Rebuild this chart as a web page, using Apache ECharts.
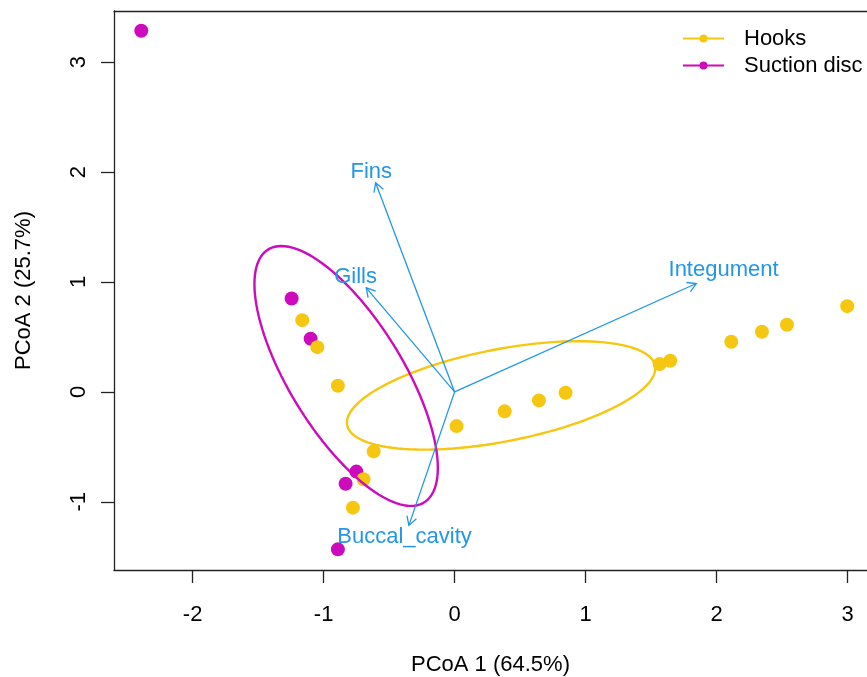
<!DOCTYPE html>
<html>
<head>
<meta charset="utf-8">
<script src="https://cdn.jsdelivr.net/npm/echarts@6/dist/echarts.min.js"></script>
<style>
html,body{margin:0;padding:0;background:#fff;}
#chart{width:867px;height:677px;}
</style>
</head>
<body>
<div id="chart"></div>
<script>
// ---- data ----
const xTicks = [-2, -1, 0, 1, 2, 3];
const yTicks = [-1, 0, 1, 2, 3];
const xTitle = 'PCoA 1 (64.5%)';
const yTitle = 'PCoA 2 (25.7%)';

const hooksX = [-1.163, -1.048, -0.891, -0.618, -0.695, -0.776, 0.015, 0.382, 0.644, 0.847, 1.565, 1.646, 2.112, 2.346, 2.537, 2.997];
const hooksY = [0.653, 0.407, 0.056, -0.541, -0.795, -1.053, -0.311, -0.177, -0.077, -0.008, 0.253, 0.283, 0.456, 0.547, 0.611, 0.780];

const suctionX = [-2.392, -1.244, -1.099, -0.750, -0.832, -0.891];
const suctionY = [3.286, 0.850, 0.484, -0.725, -0.835, -1.432];

// ellipse parameters: centre x, centre y, sd x, sd y, correlation
const hooksEllipse = [0.355, -0.032, 1.177, 0.493, 0.50];
const suctionEllipse = [-0.828, 0.145, 0.700, 1.182, -0.707];

const vectorNames = ['Fins', 'Gills', 'Integument', 'Buccal_cavity'];
const vectorX = [-0.603, -0.674, 1.845, -0.349];
const vectorY = [1.902, 0.947, 0.986, -1.214];
const labelX = [-0.636, -0.756, 2.053, -0.382];
const labelY = [2.000, 1.047, 1.114, -1.323];

// ---- build ----
const FONT = '"Liberation Sans", Arial, Helvetica, sans-serif';
const YEL = '#F5C710', MAG = '#CD0BBC', BLU = '#2297E6';
const X_MIN = -2.6, X_MAX = 3.148, Y_MIN = -1.62, Y_MAX = 3.465;

function pairs(xs, ys) { return xs.map((x, i) => [x, ys[i]]); }
function ellipse(p) {
  const [cx, cy, sx, sy, r] = p;
  const pts = [];
  const n = 120;
  for (let i = 0; i <= n; i++) {
    const t = 2 * Math.PI * i / n;
    pts.push([cx + sx * Math.cos(t), cy + sy * (r * Math.cos(t) + Math.sqrt(1 - r * r) * Math.sin(t))]);
  }
  return pts;
}

const legendIcon = 'path://M0,4H41V6H0Z M16.5,5A4,4 0 1 1 24.5,5A4,4 0 1 1 16.5,5Z';
const axisLineStyle = {color: '#222', width: 1.3};

const chart = echarts.init(document.getElementById('chart'), null, {renderer: 'canvas'});
chart.setOption({
  animation: false,
  backgroundColor: '#fff',
  textStyle: {fontFamily: FONT},
  grid: {left: 114, top: 11, right: 0, height: 559, show: false, containLabel: false, outerBoundsMode: 'none'},
  legend: {
    data: ['Hooks', 'Suction disc'],
    orient: 'vertical', left: 683, top: 25, padding: 0,
    itemWidth: 41, itemHeight: 8, itemGap: 0,
    icon: legendIcon, selectedMode: false,
    textStyle: {fontFamily: FONT, fontSize: 22, color: '#000', lineHeight: 27, padding: [0, 0, 0, 15]}
  },
  xAxis: [{
    type: 'value', min: X_MIN, max: X_MAX, position: 'bottom',
    name: xTitle, nameLocation: 'middle', nameGap: 84,
    nameTextStyle: {fontFamily: FONT, fontSize: 22, color: '#000'},
    axisLine: {show: true, onZero: false, lineStyle: axisLineStyle},
    axisTick: {show: true, customValues: xTicks, length: 13, lineStyle: axisLineStyle},
    axisLabel: {customValues: xTicks, margin: 34, fontFamily: FONT, fontSize: 22, color: '#000'},
    splitLine: {show: false}
  }, {
    type: 'value', min: X_MIN, max: X_MAX, position: 'top',
    axisLine: {show: true, onZero: false, lineStyle: axisLineStyle},
    axisTick: {show: false}, axisLabel: {show: false}, splitLine: {show: false}
  }],
  yAxis: {
    type: 'value', min: Y_MIN, max: Y_MAX, position: 'left',
    name: yTitle, nameLocation: 'middle', nameGap: 79, nameRotate: 90,
    nameTextStyle: {fontFamily: FONT, fontSize: 22, color: '#000'},
    axisLine: {show: true, onZero: false, lineStyle: axisLineStyle},
    axisTick: {show: true, customValues: yTicks, length: 13, lineStyle: axisLineStyle},
    axisLabel: {customValues: yTicks, margin: 24, rotate: 90, fontFamily: FONT, fontSize: 22, color: '#000'},
    splitLine: {show: false}
  },
  series: [
    {name: 'Suction disc', type: 'scatter', data: pairs(suctionX, suctionY), symbol: 'circle', symbolSize: 14,
     itemStyle: {color: MAG, opacity: 1}, z: 2, silent: true},
    {name: 'Hooks', type: 'scatter', data: pairs(hooksX, hooksY), symbol: 'circle', symbolSize: 14,
     itemStyle: {color: YEL, opacity: 1}, z: 3, silent: true},
    {name: 'HooksEllipse', type: 'line', data: ellipse(hooksEllipse), showSymbol: false, symbol: 'none',
     lineStyle: {color: YEL, width: 2.4}, z: 4, silent: true},
    {name: 'SuctionEllipse', type: 'line', data: ellipse(suctionEllipse), showSymbol: false, symbol: 'none',
     lineStyle: {color: MAG, width: 2.4}, z: 5, silent: true},
    {name: 'Vectors', type: 'custom', z: 6, silent: true,
     data: vectorNames.map((n, i) => [vectorX[i], vectorY[i]]),
     renderItem: function (params, api) {
       const o = api.coord([0, 0]);
       const t = api.coord([api.value(0), api.value(1)]);
       const a = Math.atan2(t[1] - o[1], t[0] - o[0]);
       const L = 10, h = Math.PI / 6;
       const p1 = [t[0] - L * Math.cos(a - h), t[1] - L * Math.sin(a - h)];
       const p2 = [t[0] - L * Math.cos(a + h), t[1] - L * Math.sin(a + h)];
       return {type: 'group', children: [
         {type: 'line', shape: {x1: o[0], y1: o[1], x2: t[0], y2: t[1]}, style: {stroke: BLU, lineWidth: 1.3}},
         {type: 'polyline', shape: {points: [p1, t, p2]}, style: {stroke: BLU, lineWidth: 1.3, fill: null}}
       ]};
     }},
    {name: 'VectorLabels', type: 'custom', z: 7, silent: true,
     data: vectorNames.map((n, i) => [labelX[i], labelY[i], n]),
     renderItem: function (params, api) {
       const p = api.coord([api.value(0), api.value(1)]);
       return {type: 'text', x: p[0], y: p[1], style: {text: vectorNames[params.dataIndex], fill: BLU,
         font: '22px ' + FONT, align: 'center', verticalAlign: 'middle'}};
     }}
  ]
});
</script>
</body>
</html>
